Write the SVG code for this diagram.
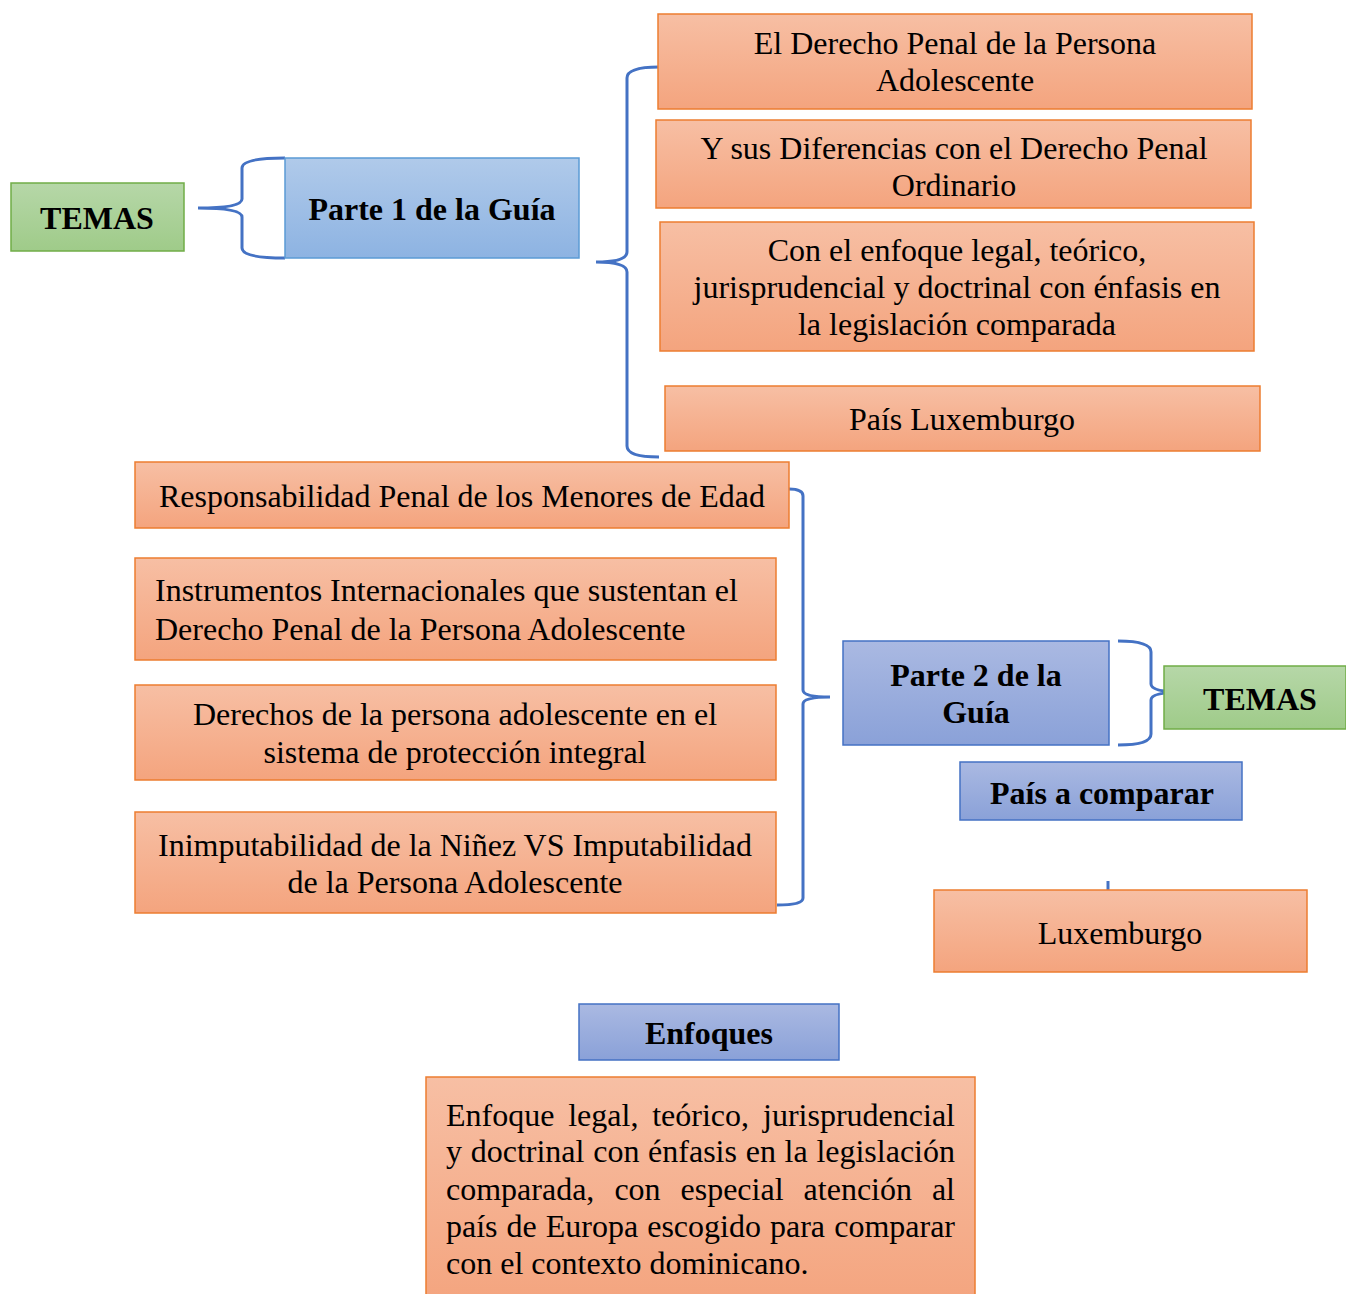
<svg xmlns="http://www.w3.org/2000/svg" width="1346" height="1294" viewBox="0 0 1346 1294">
<defs>
<linearGradient id="gOr" x1="0" y1="0" x2="0" y2="1"><stop offset="0" stop-color="#F7BFA4"/><stop offset="1" stop-color="#F4A47E"/></linearGradient>
<linearGradient id="gGr" x1="0" y1="0" x2="0" y2="1"><stop offset="0" stop-color="#B6D7A8"/><stop offset="1" stop-color="#9FCB89"/></linearGradient>
<linearGradient id="gB1" x1="0" y1="0" x2="0" y2="1"><stop offset="0" stop-color="#B0CAEA"/><stop offset="1" stop-color="#8DB3E2"/></linearGradient>
<linearGradient id="gB2" x1="0" y1="0" x2="0" y2="1"><stop offset="0" stop-color="#AAB9E2"/><stop offset="1" stop-color="#8AA1D8"/></linearGradient>
</defs>
<style>
.or{fill:url(#gOr);stroke:#ED7D31;stroke-width:1.5}
.gr{fill:url(#gGr);stroke:#70AD47;stroke-width:1.5}
.b1{fill:url(#gB1);stroke:#5B9BD5;stroke-width:1.5}
.b2{fill:url(#gB2);stroke:#4472C4;stroke-width:1.5}
text{font-family:"Liberation Serif","Times New Roman",serif;font-size:32px;fill:#000}
.c{text-anchor:middle}
.b{font-weight:bold}
.e{text-anchor:end}
.br{fill:none;stroke:#4472C4;stroke-width:3}
</style>
<g id="connectors">
<path class="br" d="M285,158 Q242,158 242,168 L242,199 Q242,208 198,208 Q242,208 242,217 L242,248 Q242,258 285,258"/>
<path class="br" d="M659,67 Q627,67 627,78 L627,252 Q627,262 596,262 Q627,262 627,272 L627,446 Q627,457 659,457"/>
<path class="br" d="M789,489 Q803,489 803,496 L803,690 Q803,697 830,697 Q803,697 803,704 L803,898 Q803,905 777,905"/>
<path class="br" d="M1118,641 Q1151,641 1151,652 L1151,684 Q1151,692 1183,692 Q1151,692 1151,700 L1151,734 Q1151,745 1118,745"/>
<line class="br" x1="1108" y1="881" x2="1108" y2="890"/>
</g>
<g id="temas1"><rect class="gr" x="11" y="183" width="173" height="68"/><text class="c b" x="97" y="229">TEMAS</text></g>
<g id="parte1"><rect class="b1" x="285" y="158" width="294" height="100"/><text class="c b" x="432" y="220">Parte 1 de la Guía</text></g>
<g id="t1"><rect class="or" x="658" y="14" width="594" height="95"/><text class="c" x="955" y="54">El Derecho Penal de la Persona</text><text class="c" x="955" y="91">Adolescente</text></g>
<g id="t2"><rect class="or" x="656" y="120" width="595" height="88"/><text class="c" x="954" y="159">Y sus Diferencias con el Derecho Penal</text><text class="c" x="954" y="196">Ordinario</text></g>
<g id="t3"><rect class="or" x="660" y="222" width="594" height="129"/><text class="c" x="957" y="261">Con el enfoque legal, teórico,</text><text class="c" x="957" y="298">jurisprudencial y doctrinal con énfasis en</text><text class="c" x="957" y="335">la legislación comparada</text></g>
<g id="t4"><rect class="or" x="665" y="386" width="595" height="65"/><text class="c" x="962" y="430">País Luxemburgo</text></g>
<g id="t5"><rect class="or" x="135" y="462" width="654" height="66"/><text class="c" x="462" y="507">Responsabilidad Penal de los Menores de Edad</text></g>
<g id="t6"><rect class="or" x="135" y="558" width="641" height="102"/><text x="155" y="601">Instrumentos Internacionales que sustentan el</text><text x="155" y="640">Derecho Penal de la Persona Adolescente</text></g>
<g id="t7"><rect class="or" x="135" y="685" width="641" height="95"/><text class="c" x="455" y="725">Derechos de la persona adolescente en el</text><text class="c" x="455" y="763">sistema de protección integral</text></g>
<g id="t8"><rect class="or" x="135" y="812" width="641" height="101"/><text class="c" x="455" y="856">Inimputabilidad de la Niñez VS Imputabilidad</text><text class="c" x="455" y="893">de la Persona Adolescente</text></g>
<g id="parte2"><rect class="b2" x="843" y="641" width="266" height="104"/><text class="c b" x="976" y="686">Parte 2 de la</text><text class="c b" x="976" y="723">Guía</text></g>
<g id="temas2"><rect class="gr" x="1164" y="666" width="182" height="63"/><text class="c b" x="1260" y="710">TEMAS</text></g>
<g id="pais"><rect class="b2" x="960" y="762" width="282" height="58"/><text class="c b" x="1102" y="804">País a comparar</text></g>
<g id="lux"><rect class="or" x="934" y="890" width="373" height="82"/><text class="c" x="1120" y="944">Luxemburgo</text></g>
<g id="enfoques"><rect class="b2" x="579" y="1004" width="260" height="56"/><text class="c b" x="709" y="1044">Enfoques</text></g>
<g id="enfoque"><rect class="or" x="426" y="1077" width="549" height="230"/>
<text y="1126"><tspan x="446">Enfoque</tspan><tspan x="568.2">legal,</tspan><tspan x="652.2">teórico,</tspan></text><text class="e" x="955" y="1126">jurisprudencial</text>
<text y="1162"><tspan x="446">y</tspan><tspan x="470.7">doctrinal</tspan><tspan x="593.2">con</tspan><tspan x="648.1">énfasis</tspan><tspan x="745.7">en</tspan><tspan x="784.6">la</tspan></text><text class="e" x="955" y="1162">legislación</text>
<text y="1200"><tspan x="446">comparada,</tspan><tspan x="614.4">con</tspan><tspan x="680.5">especial</tspan><tspan x="803.6">atención</tspan></text><text class="e" x="955" y="1200">al</text>
<text y="1237"><tspan x="446">país</tspan><tspan x="506.6">de</tspan><tspan x="545.8">Europa</tspan><tspan x="647.2">escogido</tspan><tspan x="770">para</tspan></text><text class="e" x="955" y="1237">comparar</text>
<text x="446" y="1274">con el contexto dominicano.</text>
</g>
</svg>
